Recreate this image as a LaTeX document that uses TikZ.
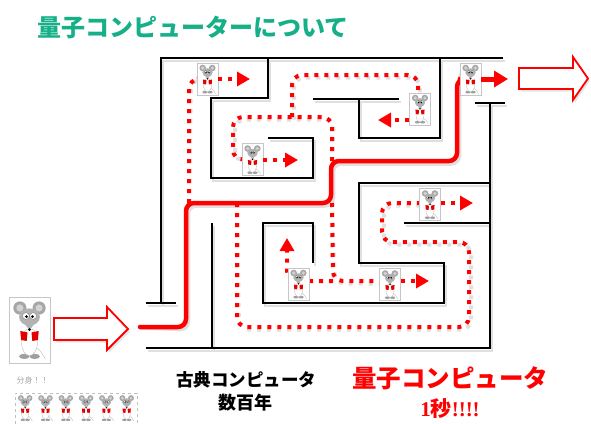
\documentclass[tikz,border=0pt]{standalone}
\usepackage{fontspec}
\newfontfamily\jp{Noto Sans CJK JP}
\newfontfamily\lserif{Liberation Serif}
\usetikzlibrary{arrows.meta}
\definecolor{titlegreen}{RGB}{22,176,136}
\definecolor{mred}{RGB}{255,0,0}

\tikzset{
  wall/.style={line width=2pt, line join=miter},
  solidpath/.style={line width=4.5pt, rounded corners=8pt, line cap=round},
  dotpath/.style={line width=4pt, dash pattern=on 4pt off 6pt, rounded corners=10pt},
  dottip/.style={dotpath, mred, -{Triangle[length=13pt,width=14pt]}},
  mbox/.style={draw=gray!45, line width=0.4pt, fill=white, minimum width=21pt,
    minimum height=32pt, inner sep=0pt},
  hollow/.style={draw=mred, line width=1.8pt, fill=white, line join=miter},
  mouse/.pic={
    \draw[gray!55, line width=0.35pt] (3,9) .. controls (6,10) and (6,12) .. (8,14.5);
    \fill[gray!75] (-2.6,13.2) ellipse [x radius=2.6, y radius=1.3];
    \fill[gray!75] (2.6,13.2) ellipse [x radius=2.6, y radius=1.3];
    \filldraw[fill=white, draw=gray!60, line width=0.3pt] (0,6) ellipse [x radius=4, y radius=6.8];
    \fill[mred!90!black] (-4.6,0.5) -- (-1,1.2) -- (-1.4,5.5) -- (-4.2,5) -- cycle;
    \fill[mred!90!black] (4.6,0.5) -- (1,1.2) -- (1.4,5.5) -- (4.2,5) -- cycle;
    \fill[gray!70] (-4.8,-11) circle [radius=3.3];
    \fill[gray!70] (4.8,-11) circle [radius=3.3];
    \fill[gray!35] (-4.8,-11) circle [radius=1.8];
    \fill[gray!35] (4.8,-11) circle [radius=1.8];
    \fill[gray!60] (0,-6.5) ellipse [x radius=5.2, y radius=4.3];
    \fill[gray!60] (-3.8,-5) -- (0,0.2) -- (3.8,-5) -- cycle;
    \filldraw[fill=white, draw=gray!80!black, line width=0.25pt]
      (-1.8,-7) circle [radius=1.7] (1.8,-7) circle [radius=1.7];
    \fill[black] (-1.5,-6.7) circle [radius=0.8] (1.5,-6.7) circle [radius=0.8];
    \fill[black] (0,-0.2) circle [radius=0.8];
  }
}

% maze walls
\newcommand\mazewalls{
  \draw[wall] (503,58) -- (161,58) -- (161,303);
  \draw[wall] (146,303) -- (176,303);
  \draw[wall] (268,58) -- (268,98) -- (211,98) -- (211,178) -- (313,178) -- (313,138) -- (268,138);
  \draw[wall] (313,99) -- (399,99);
  \draw[wall] (359,99) -- (359,138) -- (440,138) -- (440,58);
  \draw[wall] (475,103) -- (505,103);
  \draw[wall] (490,103) -- (490,348) -- (146,348);
  \draw[wall] (490,183) -- (359,183) -- (359,263) -- (444,263) -- (444,303) -- (263,303)
    -- (263,223) -- (313,223) -- (313,263);
  \draw[wall] (404,223) -- (490,223);
  \draw[wall] (212,223) -- (212,348);
}

% dotted search paths
\newcommand\searchpaths{
  \draw[dotpath] (j1) -- (189,79) -- (m1.west);
  \draw[dotpath] (j4) -- (332,117) -- (233,117) -- (233,160) -- (m2.west);
  \draw[dotpath] (292,117) -- (292,75) -- (418,75) -- (418,93);
  \draw[dotpath] (j2) -- (237,327) -- (469,327) -- (469,242) -- (382,242) -- (382,203) -- (420,203);
  \draw[dotpath] (j3) -- (333,281) -- (380,281);
}

% shortest path
\newcommand\bestpath{
  \draw[solidpath] (in) -- (186,327) -- (186,203) -- (331,203) -- (331,161) -- (457,161) -- (457,79) -- (m7.west);
}

\begin{document}
\begin{tikzpicture}[x=1pt, y=-1pt]
\useasboundingbox (0,0) rectangle (591,423);
\fill[white] (0,0) rectangle (591,423);

% heading
\node[anchor=west, text=titlegreen, font=\jp\bfseries\fontsize{24}{24}\selectfont]
  (title) at (34,27) {量子コンピューターについて};

% mice positions
\path (207.5,79) coordinate (m1c) (252.5,159.5) coordinate (m2c) (420,109) coordinate (m3c)
  (430,204.5) coordinate (m4c) (298.5,284) coordinate (m5c) (390,284.5) coordinate (m6c)
  (470.5,79) coordinate (m7c);
\foreach \m in {m1,m2,m3,m4,m5,m6,m7}{
  \path (\m c) node[mbox, draw=none, fill=none] (\m) {};
}

% arrow tips and branch points
\coordinate (in) at (140,327);
\coordinate (j1) at (189,203);
\coordinate (j2) at (237,203);
\coordinate (j3) at (332,203);
\coordinate (j4) at (332,161);
\coordinate (t1) at (250,79);
\coordinate (t2) at (298,160);
\coordinate (t3) at (378,120);
\coordinate (t4) at (473,203);
\coordinate (t5) at (287,238);
\coordinate (t6) at (429,281);
\coordinate (t7) at (508,79);

% soft shadows
\begin{scope}[shift={(2,2.5)}, draw=black!12]
  \begin{scope}[line width=3pt] \mazewalls \end{scope}
  \searchpaths
  \bestpath
\end{scope}

\begin{scope}[draw=black] \mazewalls \end{scope}
\begin{scope}[draw=mred] \searchpaths \end{scope}
\draw[dottip] (333,281) -- (287,281) -- (t5);
\begin{scope}[draw=mred] \bestpath \end{scope}

% mice drawn over the paths
\foreach \m in {m1,m2,m3,m4,m5,m6,m7}{
  \node[mbox] at (\m) {};
  \pic at (\m) {mouse};
}

% arrows leaving the mice
\draw[dottip] (m1.east |- t1) -- (t1);
\draw[dottip] (m2.east |- t2) -- (t2);
\draw[dottip] (m3.west |- t3) -- (t3);
\draw[dottip] (m4.east |- t4) -- (t4);
\draw[dottip] (m6.east |- t6) -- (t6);
\draw[mred, line width=5pt, -{Triangle[length=14pt,width=16pt]}] (m7.east |- t7) -- (t7);

% large arrows
\fill[black!10] (56,320.5) -- (109,320.5) -- (109,309.5) -- (130,331.5) -- (109,352.5) -- (109,342.5) -- (56,342.5) -- cycle;
\draw[hollow] (54,318) -- (107,318) -- (107,307) -- (128,329) -- (107,350) -- (107,340) -- (54,340) -- cycle;
\fill[black!10] (521,70.5) -- (575,70.5) -- (575,59.5) -- (590,81) -- (575,102.5) -- (575,91.5) -- (521,91.5) -- cycle;
\draw[hollow] (519,68) -- (573,68) -- (573,57) -- (588,78.5) -- (573,100) -- (573,89) -- (519,89) -- cycle;

% large mouse and its copies
\node[mbox, minimum width=41pt, minimum height=66pt] (big) at (29.5,330) {};
\pic[scale=2] at (big) {mouse};
\node[anchor=west, text=gray!70, font=\jp\fontsize{8}{8}\selectfont] (split) at (13,380) {分身！！};
\begin{scope}
  \clip (0,0) rectangle (591,423);
  \node[draw=gray!50, dashed, line width=0.4pt, fill=white, anchor=north west,
    minimum width=122pt, minimum height=40pt, inner sep=0pt] (row) at (15,393) {};
  \foreach \i in {0,...,5}{
    \pic[scale=0.9] at (25.2+20.3*\i,408) {mouse};
  }
\end{scope}

% captions
\node[font=\jp\bfseries\fontsize{17.5}{17.5}\selectfont] (classic) at (246,380) {古典コンピュータ};
\node[font=\jp\bfseries\fontsize{18}{18}\selectfont] (years) at (245,403) {数百年};
\node[text=mred, font=\jp\bfseries\fontsize{24.5}{24.5}\selectfont] (quantum) at (450,378) {量子コンピュータ};
\node[text=mred, font=\bfseries\fontsize{21}{21}\selectfont, inner sep=1pt] (second) at (450,409)
  {{\lserif\bfseries 1}{\jp\bfseries 秒}{\lserif\bfseries !!!!}};
\end{tikzpicture}
\end{document}
